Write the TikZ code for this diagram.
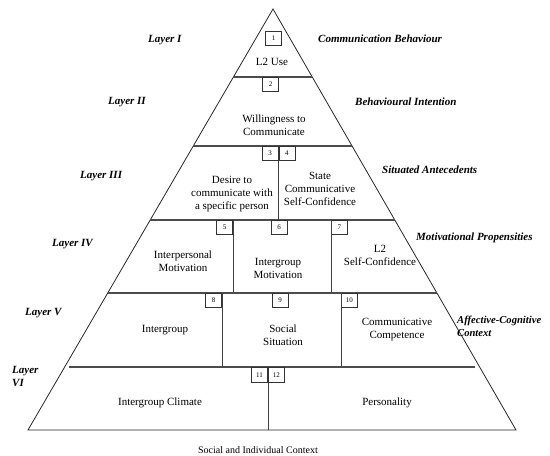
\documentclass[tikz,border=0pt]{standalone}
\usepackage{fontspec}
\setmainfont{Liberation Serif}
\usetikzlibrary{calc}
\begin{document}
\begin{tikzpicture}[x=1pt,y=-1pt,
  edge/.style={draw=black!85,line width=0.8pt,line join=miter},
  hline/.style={draw=black!70,line width=1.1pt},
  vline/.style={draw=black!75,line width=0.9pt},
  numbox/.style={draw=black!80,line width=0.8pt,minimum width=16pt,minimum height=14pt,inner sep=0pt,font=\fontsize{7}{7}\selectfont},
  body/.style={align=center,inner sep=0pt,font=\fontsize{11}{13}\selectfont},
  side/.style={anchor=west,align=left,inner sep=0pt,font=\fontsize{11}{13}\selectfont\bfseries\itshape}]
\useasboundingbox (0,0) rectangle (550,456);
% outline
\coordinate (A) at (273,9);
\coordinate (BL) at (28,430);
\coordinate (BR) at (516,430);
\draw[edge] (BL) -- (A) -- (BR) -- cycle;
% layer lines
\coordinate (L1l) at (233.4,77);  \coordinate (L1r) at (312.2,77);
\coordinate (L2l) at (193.3,146); \coordinate (L2r) at (352.1,146);
\coordinate (L3l) at (150.3,220); \coordinate (L3r) at (394.8,220);
\coordinate (L4l) at (107.7,293); \coordinate (L4r) at (436.9,293);
\coordinate (L5l) at (69,367);    \coordinate (L5r) at (475,367);
\draw[hline] (L1l) -- (L1r);
\draw[hline] (L2l) -- (L2r);
\draw[hline] (L3l) -- (L3r);
\draw[hline] (L4l) -- (L4r);
\draw[hline] (L5l) -- (L5r);
% number boxes
\node[numbox] (b1) at (273.5,38) {1};
\node[numbox,anchor=north] (b2) at (270.5,77) {2};
\node[numbox,anchor=north east] (b3) at (278.5,146) {3};
\node[numbox,anchor=north west] (b4) at (278.5,146) {4};
\node[numbox,anchor=north east] (b5) at (233,220) {5};
\node[numbox,anchor=north] (b6) at (279,220) {6};
\node[numbox,anchor=north west] (b7) at (331,220) {7};
\node[numbox,anchor=north east] (b8) at (222,293) {8};
\node[numbox,anchor=north] (b9) at (280,293) {9};
\node[numbox,anchor=north west] (b10) at (341,293) {10};
\node[numbox,anchor=north east,minimum height=15pt] (b11) at (268,367) {11};
\node[numbox,anchor=north west,minimum height=15pt] (b12) at (268,367) {12};
% dividers
\draw[vline] (b3.south east) -- (b3.south east |- L3l);
\draw[vline] (b5.north east) -- (b5.north east |- L4l);
\draw[vline] (b7.north west) -- (b7.north west |- L4l);
\draw[vline] (b8.north east) -- (b8.north east |- L5l);
\draw[vline] (b10.north west) -- (b10.north west |- L5l);
\draw[vline] (b11.south east) -- (b11.south east |- BL);
% cell texts
\node[body] (t1) at (272,62) {L2 Use};
\node[body] (t2) at (274,125.5) {Willingness to\\Communicate};
\node[body] (t3a) at (232,194.5) {Desire to\\communicate with\\a specific person};
\node[body] (t3b) at (320,189) {State\\Communicative\\Self-Confidence};
\node[body] (t4a) at (183,261) {Interpersonal\\Motivation};
\node[body] (t4b) at (278,268) {Intergroup\\Motivation};
\node[body] (t4c) at (380,255) {L2\\Self-Confidence};
\node[body] (t5a) at (165,330) {Intergroup};
\node[body] (t5b) at (283,335.5) {Social\\Situation};
\node[body] (t5c) at (397,330) {Communicative\\Competence};
\node[body] (t6a) at (160,403) {Intergroup Climate};
\node[body] (t6b) at (387,403) {Personality};
\node[body,font=\fontsize{10}{12}\selectfont] (ctx) at (258,450) {Social and Individual Context};
% side labels
\node[side] (ly1) at (148,40) {Layer I};
\node[side] (ly2) at (108,102) {Layer II};
\node[side] (ly3) at (80,176) {Layer III};
\node[side] (ly4) at (52,244) {Layer IV};
\node[side] (ly5) at (25,313) {Layer V};
\node[side,anchor=north west] (ly6) at (12,366) {Layer\\VI};
\node[side] (r1) at (318,39) {Communication Behaviour};
\node[side] (r2) at (355,102) {Behavioural Intention};
\node[side] (r3) at (382,170) {Situated Antecedents};
\node[side] (r4) at (416,238) {Motivational Propensities};
\node[side,font=\fontsize{10.6}{13}\selectfont\bfseries\itshape] (r5) at (457,326) {Affective-Cognitive\\Context};
\end{tikzpicture}
\end{document}
